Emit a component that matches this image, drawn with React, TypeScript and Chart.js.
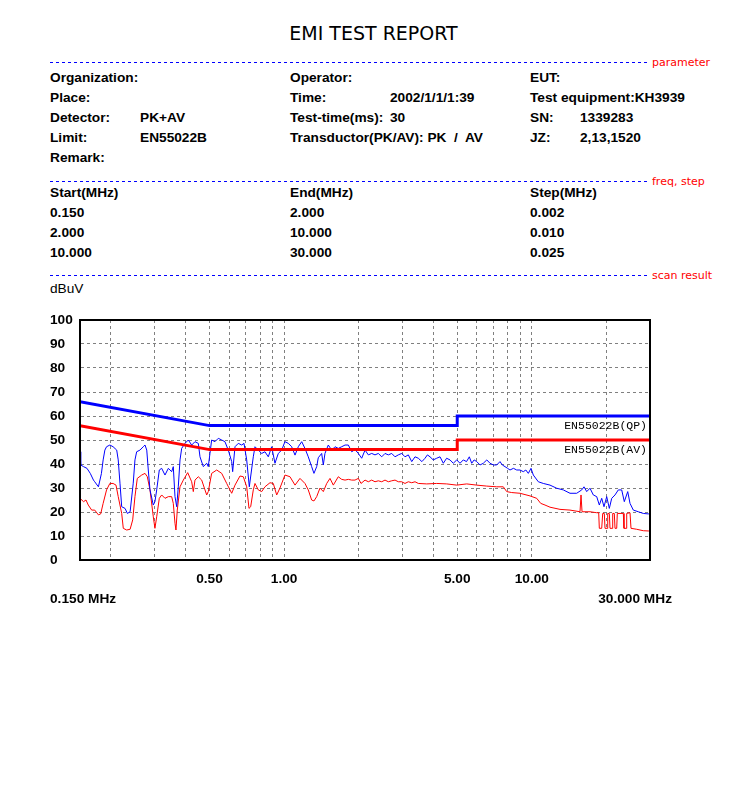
import React, { useEffect, useRef } from "react";
import { Chart, registerables } from "chart.js";

Chart.register(...registerables);

// ---------------- data ----------------
const peakFreq = [
  0.150, 0.151, 0.155, 0.160, 0.165, 0.170, 0.172, 0.178, 0.183, 0.186,
  0.189, 0.192, 0.198, 0.204, 0.211, 0.214, 0.2175, 0.221, 0.228, 0.233,
  0.239, 0.246, 0.250, 0.254, 0.262, 0.270, 0.2745, 0.279, 0.283, 0.2875,
  0.2965, 0.301, 0.306, 0.3135, 0.3205, 0.3305, 0.341, 0.3517, 0.357, 0.3627,
  0.3685, 0.374, 0.380, 0.386, 0.398, 0.4105, 0.4236, 0.4368, 0.4505, 0.4576,
  0.4719, 0.487, 0.4943, 0.502, 0.510, 0.526, 0.5425, 0.560, 0.577, 0.5953,
  0.6144, 0.620, 0.6336, 0.6534, 0.6743, 0.6888, 0.7064, 0.7237, 0.751, 0.763,
  0.7868, 0.812, 0.837, 0.8634, 0.891, 0.9188, 0.9475, 0.9778, 1.008, 1.040,
  1.073, 1.107, 1.141, 1.178, 1.214, 1.252, 1.292, 1.320, 1.354, 1.374,
  1.418, 1.440, 1.462, 1.508, 1.557, 1.605, 1.655, 1.708, 1.762, 1.817,
  1.875, 1.933, 1.994, 2.057, 2.122, 2.188, 2.258, 2.328, 2.401, 2.478,
  2.555, 2.635, 2.719, 2.804, 2.891, 2.984, 3.077, 3.173, 3.275, 3.377,
  3.482, 3.60, 3.706, 3.79, 3.882, 4.00, 4.131, 4.26, 4.393, 4.53,
  4.675, 4.82, 4.976, 5.13, 5.290, 5.45, 5.594, 5.720, 5.85, 5.992,
  6.18, 6.371, 6.58, 6.781, 7.00, 7.216, 7.441, 7.60, 7.795, 7.98,
  8.166, 8.43, 8.691, 8.96, 9.241, 9.46, 9.681, 9.926, 10.141, 10.624,
  11.129, 11.843, 12.605, 13.403, 14.263, 15.180, 15.901, 16.244, 16.658, 17.177,
  17.713, 18.281, 18.730, 19.150, 19.563, 20.062, 20.554, 21.015, 21.670, 22.347,
  23.062, 23.627, 24.388, 24.913, 25.690, 26.914, 28.192, 29.534, 30.0,
];
const peakLevel = [
  45.1, 39.6, 38.9, 38.2, 36.1, 33.3, 32.6, 30.5, 36.0, 41.7,
  45.8, 47.2, 47.9, 47.2, 45.8, 41.7, 32.0, 22.2, 21.5, 19.4,
  20.1, 32.0, 41.7, 45.1, 45.8, 47.2, 47.9, 45.8, 37.5, 29.2,
  22.9, 24.3, 29.2, 37.5, 38.2, 35.4, 38.2, 36.8, 38.9, 26.4,
  22.2, 30.5, 41.7, 46.5, 48.6, 50.0, 47.9, 49.3, 48.6, 43.0,
  38.9, 40.3, 38.9, 44.4, 50.0, 49.3, 50.7, 50.0, 49.3, 45.8,
  41.0, 36.8, 47.2, 48.6, 47.9, 48.6, 41.7, 30.5, 43.0, 47.2,
  45.8, 44.4, 45.1, 43.0, 47.2, 40.3, 44.4, 45.8, 49.3, 48.6,
  47.2, 43.7, 47.2, 49.3, 46.5, 43.0, 38.9, 36.1, 38.9, 42.6,
  44.4, 39.6, 44.4, 47.9, 45.8, 47.2, 46.5, 47.2, 47.9, 47.9,
  45.1, 46.0, 44.4, 42.4, 45.8, 43.8, 44.4, 43.8, 44.4, 43.0,
  44.4, 43.8, 44.4, 43.0, 43.8, 44.4, 43.0, 43.8, 41.0, 43.0,
  42.4, 41.0, 42.4, 43.8, 43.0, 41.7, 42.4, 43.0, 40.3, 42.4,
  41.7, 40.3, 41.7, 40.3, 41.7, 41.0, 43.0, 40.3, 41.7, 41.0,
  39.6, 40.3, 41.7, 40.3, 39.6, 39.6, 41.0, 39.6, 38.9, 38.2,
  37.5, 38.2, 37.5, 37.5, 36.8, 37.5, 36.1, 38.2, 35.4, 32.6,
  31.9, 31.2, 29.9, 29.2, 27.8, 27.8, 29.2, 30.5, 28.5, 29.9,
  27.1, 26.4, 22.9, 25.7, 22.2, 26.4, 21.5, 25.7, 27.1, 29.2,
  29.2, 24.3, 28.5, 23.6, 20.8, 20.1, 19.4, 19.2, 19.4,
];

const avgFreq = [
  0.150, 0.155, 0.1586, 0.162, 0.1672, 0.172, 0.178, 0.1818, 0.186, 0.192,
  0.198, 0.204, 0.2096, 0.214, 0.221, 0.2243, 0.2315, 0.239, 0.2448, 0.250,
  0.2555, 0.2662, 0.2745, 0.2804, 0.2875, 0.2965, 0.301, 0.306, 0.3135, 0.3205,
  0.3305, 0.341, 0.3517, 0.357, 0.3627, 0.366, 0.3705, 0.380, 0.3919, 0.4082,
  0.4236, 0.430, 0.4368, 0.4505, 0.4649, 0.4794, 0.487, 0.4943, 0.510, 0.5345,
  0.560, 0.5865, 0.6048, 0.6144, 0.6336, 0.6637, 0.6844, 0.7064, 0.7216, 0.733,
  0.751, 0.763, 0.7868, 0.812, 0.837, 0.8771, 0.9045, 0.9335, 0.9625, 1.008,
  1.056, 1.107, 1.159, 1.214, 1.252, 1.292, 1.320, 1.354, 1.396, 1.440,
  1.486, 1.532, 1.580, 1.655, 1.708, 1.762, 1.817, 1.875, 1.933, 1.994,
  2.044, 2.122, 2.188, 2.258, 2.328, 2.401, 2.478, 2.555, 2.635, 2.719,
  2.804, 2.891, 2.984, 3.077, 3.173, 3.275, 3.377, 3.482, 3.765, 4.131,
  4.534, 4.976, 5.460, 5.992, 6.576, 7.216, 7.673, 7.919, 8.296, 8.961,
  9.834, 10.466, 10.862, 11.305, 11.843, 12.997, 14.263, 15.652, 15.80, 15.95,
  17.177, 18.281, 18.625, 18.730, 19.150, 19.329, 19.619, 19.747, 20.118, 20.251,
  20.554, 20.686, 21.074, 21.211, 21.530, 21.670, 22.016, 22.138, 23.409, 23.559,
  24.003, 24.161, 24.913, 25.146, 26.515, 28.192, 29.534, 30.0,
];
const avgLevel = [
  25.7, 24.3, 25.0, 22.9, 20.8, 20.8, 18.8, 19.2, 23.6, 29.2,
  31.9, 31.9, 31.2, 26.4, 19.4, 13.2, 12.5, 12.8, 16.7, 26.4,
  34.0, 35.4, 36.1, 34.7, 29.2, 18.0, 13.2, 18.0, 25.7, 27.1,
  25.7, 26.4, 26.4, 23.6, 15.3, 12.5, 20.8, 30.5, 33.3, 36.4,
  32.6, 28.5, 33.3, 34.7, 33.3, 29.2, 27.1, 28.5, 36.1, 37.5,
  36.1, 31.9, 29.2, 27.8, 31.2, 35.0, 34.7, 30.5, 21.5, 22.2,
  29.2, 31.9, 29.2, 28.5, 30.5, 32.2, 31.9, 27.1, 30.0, 35.4,
  34.7, 31.2, 34.0, 31.9, 29.2, 25.0, 24.6, 26.4, 30.0, 28.5,
  31.9, 34.0, 31.2, 34.7, 33.6, 33.3, 33.6, 33.3, 33.3, 34.0,
  31.9, 33.3, 32.6, 33.3, 32.6, 33.0, 32.6, 33.3, 32.6, 33.0,
  33.3, 32.6, 32.6, 31.9, 32.6, 32.2, 32.6, 31.9, 31.7, 31.9,
  31.7, 31.2, 31.7, 31.2, 30.8, 30.5, 30.5, 28.5, 28.1, 27.8,
  26.7, 25.7, 23.6, 22.9, 22.0, 21.1, 20.8, 20.1, 27.1, 20.1,
  20.1, 19.7, 19.7, 13.2, 13.2, 19.4, 19.4, 13.2, 13.2, 19.4,
  19.4, 13.2, 13.2, 19.4, 19.4, 13.2, 13.2, 19.4, 19.4, 13.2,
  13.2, 19.4, 19.7, 13.2, 12.8, 12.2, 12.1, 12.0,
];

const limitFreq = [0.15, 0.5, 5, 5, 30];
const qpLimit = [66, 56, 56, 60, 60];
const avLimit = [56, 46, 46, 50, 50];

const xGridTicks = [0.2, 0.3, 0.4, 0.5, 0.6, 0.7, 0.8, 0.9, 1, 2, 3, 4, 5, 6, 7, 8, 9, 10, 20];
const xLabelTicks = [0.5, 1, 5, 10];
const yTicks = [0, 10, 20, 30, 40, 50, 60, 70, 80, 90, 100];

// ---------------- helpers ----------------
const toPoints = (xs: number[], ys: number[]) => xs.map((x, i) => ({ x, y: ys[i] }));
const SANS = "'Liberation Sans', Arial, Helvetica, sans-serif";
const BOLD_FONT = { family: SANS, size: 13.7, weight: "bold" as const };

const overlayPlugin = {
  id: "overlay",
  afterDraw(chart: any) {
    const { ctx, chartArea: a, scales } = chart;
    ctx.save();
    ctx.strokeStyle = "#000";
    ctx.lineWidth = 2;
    ctx.strokeRect(a.left, a.top, a.right - a.left, a.bottom - a.top);
    ctx.fillStyle = "#000";
    ctx.font = "11.5px 'Liberation Mono', 'DejaVu Sans Mono', monospace";
    ctx.textAlign = "right";
    ctx.textBaseline = "top";
    ctx.fillText("EN55022B(QP)", a.right - 3, scales.y.getPixelForValue(qpLimit[4]) + 4);
    ctx.fillText("EN55022B(AV)", a.right - 3, scales.y.getPixelForValue(avLimit[4]) + 4);
    ctx.restore();
  },
};

function ChartBox() {
  const ref = useRef<HTMLCanvasElement | null>(null);
  useEffect(() => {
    if (!ref.current) return;
    const grid = { color: "#808080", lineWidth: 1, drawTicks: false };
    const border = { display: true, color: "#000", width: 1, dash: [3, 3] };
    const chart = new Chart(ref.current, {
      type: "line",
      data: {
        datasets: [
          {
            label: "QP limit",
            data: toPoints(limitFreq, qpLimit),
            borderColor: "#0000ff",
            borderWidth: 3,
            pointRadius: 0,
            order: 0,
          },
          {
            label: "AV limit",
            data: toPoints(limitFreq, avLimit),
            borderColor: "#ff0000",
            borderWidth: 3,
            pointRadius: 0,
            order: 0,
          },
          {
            label: "PK",
            data: toPoints(peakFreq, peakLevel),
            borderColor: "#0000ff",
            borderWidth: 1,
            pointRadius: 0,
            order: 1,
          },
          {
            label: "AV",
            data: toPoints(avgFreq, avgLevel),
            borderColor: "#ff0000",
            borderWidth: 1,
            pointRadius: 0,
            order: 2,
          },
        ],
      },
      options: {
        animation: false,
        responsive: false,
        events: [],
        layout: { padding: { left: 10, right: 50, top: 20, bottom: 0 } },
        plugins: { legend: { display: false }, tooltip: { enabled: false } },
        scales: {
          x: {
            type: "logarithmic",
            min: 0.15,
            max: 30,
            afterBuildTicks: (s: any) => {
              s.ticks = xGridTicks.map((v) => ({ value: v }));
            },
            afterFit: (s: any) => {
              s.height = 60;
            },
            ticks: {
              autoSkip: false,
              maxRotation: 0,
              padding: 11,
              color: "#000",
              font: BOLD_FONT,
              callback: (v: any) => (xLabelTicks.includes(Number(v)) ? Number(v).toFixed(2) : ""),
            },
            grid,
            border,
          },
          y: {
            min: 0,
            max: 100,
            afterBuildTicks: (s: any) => {
              s.ticks = yTicks.map((v) => ({ value: v }));
            },
            afterFit: (s: any) => {
              s.width = 30;
            },
            ticks: {
              crossAlign: "far",
              padding: 0,
              color: "#000",
              font: BOLD_FONT,
              callback: (v: any) => String(v),
            },
            grid,
            border,
          },
        },
      },
      plugins: [overlayPlugin],
    } as any);
    return () => chart.destroy();
  }, []);
  return (
    <canvas
      ref={ref}
      width={660}
      height={320}
      style={{ position: "absolute", left: 40, top: 300, width: 660, height: 320 }}
    />
  );
}

function T(props: { x: number; y: number; children: React.ReactNode; style?: React.CSSProperties }) {
  return (
    <div
      style={{
        position: "absolute",
        left: props.x,
        top: props.y - 10,
        height: 20,
        lineHeight: "20px",
        whiteSpace: "pre",
        fontFamily: SANS,
        fontWeight: "bold",
        fontSize: 13.7,
        color: "#000",
        ...props.style,
      }}
    >
      {props.children}
    </div>
  );
}

function Dash({ y, label }: { y: number; label: string }) {
  return (
    <>
      <div
        style={{
          position: "absolute",
          left: 50,
          top: y,
          width: 597,
          height: 1,
          background: "repeating-linear-gradient(to right, #0000ff 0px, #0000ff 3px, transparent 3px, transparent 6px)",
        }}
      />
      <div
        style={{
          position: "absolute",
          left: 652,
          top: y - 9,
          height: 20,
          lineHeight: "20px",
          whiteSpace: "pre",
          fontFamily: "'DejaVu Sans', Verdana, sans-serif",
          fontSize: 11,
          color: "#ff0000",
        }}
      >
        {label}
      </div>
    </>
  );
}

export default function App() {
  return (
    <div style={{ position: "absolute", left: 0, top: 0, width: 750, height: 800, background: "#fff", overflow: "hidden" }}>
      <div
        style={{
          position: "absolute",
          left: 0,
          width: 747,
          top: 21,
          height: 24,
          lineHeight: "24px",
          textAlign: "center",
          fontFamily: "'DejaVu Sans', Verdana, sans-serif",
          fontSize: 19,
          color: "#000",
        }}
      >
        EMI TEST REPORT
      </div>

      <Dash y={62} label="parameter" />
      <T x={50} y={78}>Organization:</T>
      <T x={290} y={78}>Operator:</T>
      <T x={530} y={78}>EUT:</T>

      <T x={50} y={98}>Place:</T>
      <T x={290} y={98}>Time:</T>
      <T x={390} y={98}>2002/1/1/1:39</T>
      <T x={530} y={98}>Test equipment:KH3939</T>

      <T x={50} y={118}>Detector:</T>
      <T x={140} y={118}>PK+AV</T>
      <T x={290} y={118}>Test-time(ms):</T>
      <T x={390} y={118}>30</T>
      <T x={530} y={118}>SN:</T>
      <T x={580} y={118}>1339283</T>

      <T x={50} y={138}>Limit:</T>
      <T x={140} y={138}>EN55022B</T>
      <T x={290} y={138}>{"Transductor(PK/AV): PK  /  AV"}</T>
      <T x={530} y={138}>JZ:</T>
      <T x={580} y={138}>2,13,1520</T>

      <T x={50} y={158}>Remark:</T>

      <Dash y={181} label="freq, step" />
      <T x={50} y={193}>Start(MHz)</T>
      <T x={290} y={193}>End(MHz)</T>
      <T x={530} y={193}>Step(MHz)</T>
      <T x={50} y={213}>0.150</T>
      <T x={290} y={213}>2.000</T>
      <T x={530} y={213}>0.002</T>
      <T x={50} y={233}>2.000</T>
      <T x={290} y={233}>10.000</T>
      <T x={530} y={233}>0.010</T>
      <T x={50} y={253}>10.000</T>
      <T x={290} y={253}>30.000</T>
      <T x={530} y={253}>0.025</T>

      <Dash y={275} label="scan result" />
      <T x={50} y={289} style={{ fontWeight: "normal" }}>dBuV</T>

      <ChartBox />

      <T x={50} y={599}>0.150 MHz</T>
      <T x={0} y={599} style={{ left: "auto", right: 78 }}>30.000 MHz</T>
    </div>
  );
}
